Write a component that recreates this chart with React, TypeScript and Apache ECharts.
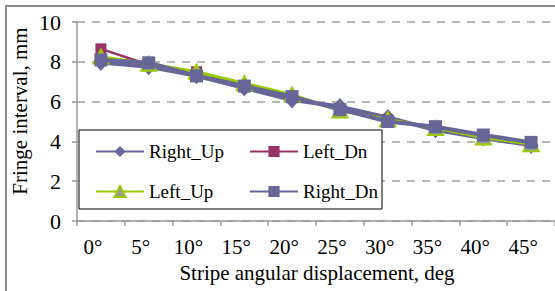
import React, { useEffect, useRef } from "react";
import * as echarts from "echarts";

const categories = ["0°", "5°", "10°", "15°", "20°", "25°", "30°", "35°", "40°", "45°"];
const rightUp = [7.97, 7.75, 7.3, 6.68, 6.08, 5.75, 5.2, 4.57, 4.17, 3.8];
const leftDn = [8.65, 7.85, 7.5, 6.8, 6.2, 5.6, 5.1, 4.7, 4.25, 3.8];
const leftUp = [8.26, 7.9, 7.5, 6.92, 6.35, 5.55, 5.1, 4.67, 4.2, 3.85];
const rightDn = [8.09, 7.95, 7.29, 6.78, 6.25, 5.61, 5.0, 4.74, 4.32, 3.95];
const yTitle = "Fringe interval, mm";
const xTitle = "Stripe angular displacement, deg";

const FONT = "'Liberation Serif', serif";

export default function App() {
  const ref = useRef<HTMLDivElement>(null);
  useEffect(() => {
    if (!ref.current) return;
    const chart = echarts.init(ref.current, null, { renderer: "svg" });
    const legendBase = (name: string, left: number, top: number) => ({
      data: [name],
      left,
      top,
      z: 100,
      padding: 0,
      itemWidth: 48,
      itemHeight: 14,
      itemGap: 4,
      selectedMode: false,
      textStyle: { fontFamily: FONT, fontSize: 19, color: "#000" },
    });
    chart.setOption({
      animation: false,
      backgroundColor: "#fff",
      textStyle: { fontFamily: FONT },
      grid: { left: 77, top: 22, right: -3, bottom: 70 },
      xAxis: {
        type: "category",
        data: categories,
        boundaryGap: true,
        axisLine: { lineStyle: { color: "#999", width: 1.5 } },
        axisTick: { show: true, length: 5, lineStyle: { color: "#999", width: 1.5 } },
        axisLabel: { fontFamily: FONT, fontSize: 21, color: "#000", margin: 15, padding: [0, 16, 0, 0] },
        splitLine: { show: false },
      },
      yAxis: {
        type: "value",
        min: 0,
        max: 10,
        interval: 2,
        axisLine: { show: true, lineStyle: { color: "#999", width: 1.5 } },
        axisTick: { show: true, length: 5, lineStyle: { color: "#999", width: 1.5 } },
        axisLabel: { fontFamily: FONT, fontSize: 22, color: "#000", margin: 16 },
        splitLine: { show: true, lineStyle: { color: "#a0a0a0", width: 1.5, type: [8, 7] } },
      },
      legend: [
        legendBase("Right_Up", 95, 142),
        legendBase("Left_Dn", 249, 142),
        legendBase("Left_Up", 95, 182),
        legendBase("Right_Dn", 249, 182),
      ],
      graphic: [
        {
          type: "rect",
          shape: { x: 6, y: 6, width: 700, height: 400 },
          style: { fill: "none", stroke: "#8c8c8c", lineWidth: 2 },
          z: 0,
          silent: true,
        },
        {
          type: "rect",
          shape: { x: 79, y: 130, width: 303, height: 79 },
          style: { fill: "#fff", stroke: "#000", lineWidth: 1 },
          z: 50,
          silent: true,
        },
        {
          type: "text",
          x: 20,
          y: 111,
          rotation: Math.PI / 2,
          style: {
            text: yTitle,
            fontFamily: FONT,
            fontSize: 21,
            fill: "#000",
            textAlign: "center",
            textVerticalAlign: "middle",
          },
          z: 60,
        },
        {
          type: "text",
          x: 317,
          y: 273,
          style: {
            text: xTitle,
            fontFamily: FONT,
            fontSize: 21,
            fill: "#000",
            textAlign: "center",
            textVerticalAlign: "middle",
          },
          z: 60,
        },
      ],
      series: [
        {
          name: "Right_Up",
          type: "line",
          data: rightUp,
          symbol: "diamond",
          symbolSize: [15, 17],
          lineStyle: { color: "#666699", width: 4 },
          itemStyle: { color: "#666699" },
          z: 2,
        },
        {
          name: "Left_Dn",
          type: "line",
          data: leftDn,
          symbol: "rect",
          symbolSize: 11,
          lineStyle: { color: "#993366", width: 2.5 },
          itemStyle: { color: "#993366" },
          z: 3,
        },
        {
          name: "Left_Up",
          type: "line",
          data: leftUp,
          symbol: "triangle",
          symbolSize: [15, 14],
          lineStyle: { color: "#99cc00", width: 3 },
          itemStyle: { color: "#999999", borderColor: "#99cc00", borderWidth: 2 },
          z: 4,
        },
        {
          name: "Right_Dn",
          type: "line",
          data: rightDn,
          symbol: "rect",
          symbolSize: 13,
          lineStyle: { color: "#666699", width: 4 },
          itemStyle: { color: "#666699" },
          z: 5,
        },
      ],
    });
    return () => chart.dispose();
  }, []);
  return (
    <div
      ref={ref}
      style={{ position: "absolute", left: 0, top: 0, width: 555, height: 291 }}
    />
  );
}
